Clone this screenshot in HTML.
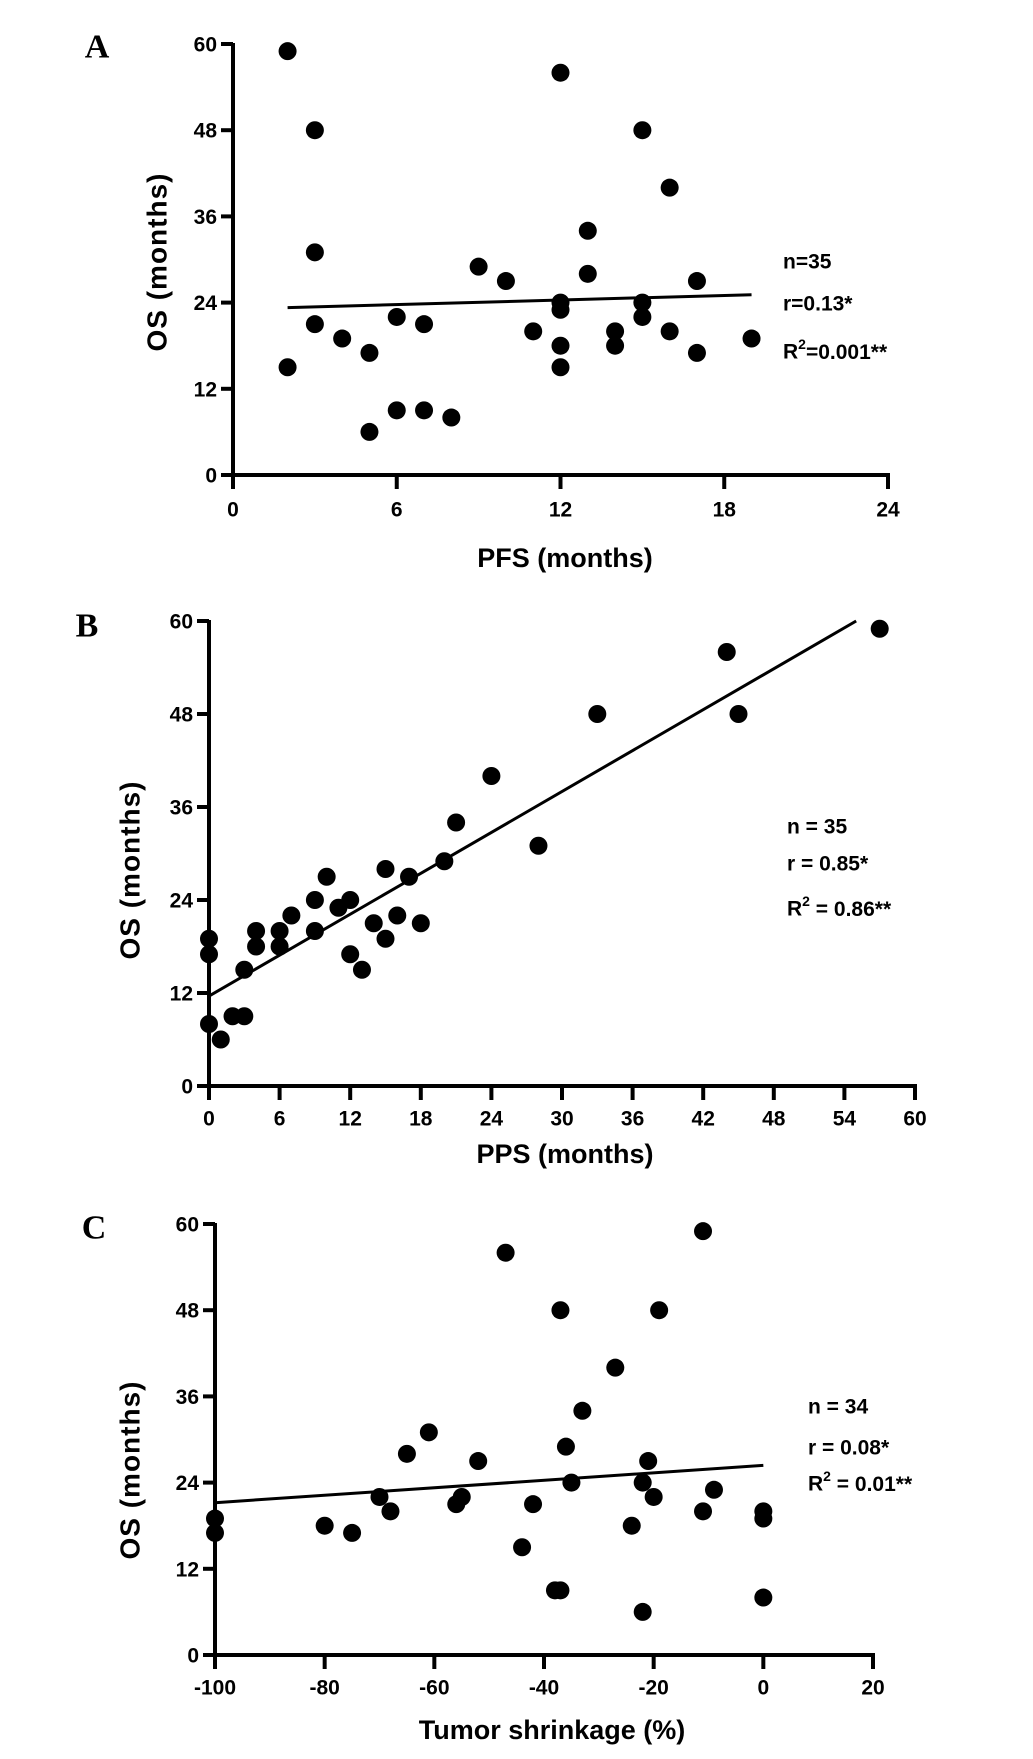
<!DOCTYPE html>
<html><head><meta charset="utf-8"><style>
html,body{margin:0;padding:0;background:#fff;}
svg{display:block;}
text{font-family:"Liberation Sans",Arial,sans-serif;font-weight:bold;fill:#000;}
.letter{font-family:"Liberation Serif",serif;font-size:34px;}
</style></head><body>
<svg id="fig" width="1033" height="1759" viewBox="0 0 1033 1759"></svg>
<script>
// Panel A data (PFS vs OS)
const aX = [2,3,3,3,2,4,5,5,6,6,7,7,8,9,10,11,12,12,12,12,12,13,13,14,14,15,15,15,16,16,17,17,19];
const aY = [59,48,31,21,15,19,17,6,22,9,21,9,8,29,27,20,56,24,23,18,15,34,28,20,18,48,24,22,40,20,27,17,19];
const aFitX = [2,19];
const aFitY = [23.3,25.1];
const aXTicks = [0,6,12,18,24];
// Panel B data (PPS vs OS)
const bX = [0,0,0,1,2,3,3,4,4,6,6,7,9,9,10,11,12,12,13,14,15,15,16,17,18,20,21,24,28,33,44,45,57];
const bY = [19,17,8,6,9,9,15,20,18,20,18,22,24,20,27,23,24,17,15,21,28,19,22,27,21,29,34,40,31,48,56,48,59];
const bFitX = [0,55];
const bFitY = [11.6,60];
const bXTicks = [0,6,12,18,24,30,36,42,48,54,60];
// Panel C data (Tumor shrinkage vs OS)
const cX = [-100,-100,-80,-75,-70,-68,-65,-61,-56,-55,-52,-47,-44,-42,-38,-37,-37,-36,-35,-33,-27,-24,-22,-22,-21,-20,-19,-11,-11,-9,0,0,0];
const cY = [19,17,18,17,22,20,28,31,21,22,27,56,15,21,9,9,48,29,24,34,40,18,24,6,27,22,48,59,20,23,20,19,8];
const cFitX = [-100,0];
const cFitY = [21.2,26.4];
const cXTicks = [-100,-80,-60,-40,-20,0,20];
const yTicks = [0,12,24,36,48,60];

const NS = "http://www.w3.org/2000/svg";
const svg = document.getElementById('fig');
function mk(tag, attrs, parent){
  const e = document.createElementNS(NS, tag);
  for (const k in attrs) e.setAttribute(k, attrs[k]);
  (parent||svg).appendChild(e);
  return e;
}
function txt(parent, x, y, s, size, anchor){
  const t = mk('text', {x:x, y:y, 'font-size':size, 'text-anchor':anchor||'middle', 'dominant-baseline':'central'}, parent);
  t.textContent = s;
  return t;
}

function panel(cfg){
  const g = mk('g', {});
  
  
  const sx = v => cfg.x0 + (v - cfg.xmin) / (cfg.xmax - cfg.xmin) * (cfg.x1 - cfg.x0);
  const sy = v => cfg.y0 - v / 60 * (cfg.y0 - cfg.y1);
  const L = mk('text', {x:cfg.lx, y:cfg.ly, class:'letter', 'dominant-baseline':'central', 'text-anchor':'middle'}, g);
  L.textContent = cfg.letter;
  
  
  const ya = mk('line', {x1:sx(cfg.xmin), y1:cfg.y1-1, x2:sx(cfg.xmin), y2:cfg.y0+14, stroke:'#000','stroke-width':4}, g);
  
  
  const xa = mk('line', {x1:sx(cfg.xmin)-12, y1:cfg.y0, x2:sx(cfg.xmax)+2, y2:cfg.y0, stroke:'#000','stroke-width':4}, g);
  
  
  yTicks.forEach(v => {
    const tk = mk('line', {x1:sx(cfg.xmin)-12, y1:sy(v), x2:sx(cfg.xmin), y2:sy(v), stroke:'#000','stroke-width':4}, g);
    
    
    const t = txt(g, sx(cfg.xmin)-16, sy(v)+1, String(v), 21, 'end');
    
    
  });
  cfg.xticks.forEach(v => {
    const tk = mk('line', {x1:sx(v), y1:cfg.y0, x2:sx(v), y2:cfg.y0+14, stroke:'#000','stroke-width':4}, g);
    
    
    const t = txt(g, sx(v), cfg.xty, String(v), 21);
    
    
  });
  const xt = txt(g, cfg.xtx, cfg.xtly, cfg.xtitle, 27);
  
  
  const yt = txt(g, 0, 0, 'OS (months)', 28);
  yt.setAttribute('transform', 'translate(' + cfg.ytx + ',' + cfg.yty + ') rotate(-90)');
  yt.setAttribute('letter-spacing', '1');
  
  
  const fl = mk('line', {x1:sx(cfg.fitX[0]), y1:sy(cfg.fitY[0]), x2:sx(cfg.fitX[1]), y2:sy(cfg.fitY[1]), stroke:'#000','stroke-width':3}, g);
  
  
  cfg.xs.forEach((xv, i) => {
    const c = mk('circle', {cx:sx(xv), cy:sy(cfg.ys[i]), r:9, fill:'#000'}, g);
    
    
  });
  cfg.ann.forEach((a, i) => {
    const t = mk('text', {x:cfg.ax, y:cfg.ay[i], 'font-size':21, 'dominant-baseline':'central'}, g);
    if (a.sup) {
      t.appendChild(document.createTextNode('R'));
      const s = mk('tspan', {dy:-8, 'font-size':14}, t); s.textContent = '2';
      const r = mk('tspan', {dy:8}, t); r.textContent = a.rest;
    } else t.textContent = a.s;
    
    
  });
}

panel({name:'panel-a', letter:'A', lx:97, ly:47, x0:233, x1:888, xmin:0, xmax:24, y0:475, y1:44,
  xticks:aXTicks, xty:510, xtitle:'PFS (months)', xtx:565, xtly:558, ytx:157, yty:262,
  xs:aX, ys:aY, fitX:aFitX, fitY:aFitY, ax:783, ay:[262,304,352],
  ann:[{s:'n=35'},{s:'r=0.13*'},{sup:true, rest:'=0.001**'}]});
panel({name:'panel-b', letter:'B', lx:87, ly:626, x0:209, x1:915, xmin:0, xmax:60, y0:1086, y1:621,
  xticks:bXTicks, xty:1119, xtitle:'PPS (months)', xtx:565, xtly:1154, ytx:130, yty:870,
  xs:bX, ys:bY, fitX:bFitX, fitY:bFitY, ax:787, ay:[827,864,909],
  ann:[{s:'n = 35'},{s:'r = 0.85*'},{sup:true, rest:' = 0.86**'}]});
panel({name:'panel-c', letter:'C', lx:94, ly:1228, x0:215, x1:873, xmin:-100, xmax:20, y0:1655, y1:1224,
  xticks:cXTicks, xty:1688, xtitle:'Tumor shrinkage (%)', xtx:552, xtly:1730, ytx:130, yty:1470,
  xs:cX, ys:cY, fitX:cFitX, fitY:cFitY, ax:808, ay:[1407,1448,1484],
  ann:[{s:'n = 34'},{s:'r = 0.08*'},{sup:true, rest:' = 0.01**'}]});
</script>
</body></html>
